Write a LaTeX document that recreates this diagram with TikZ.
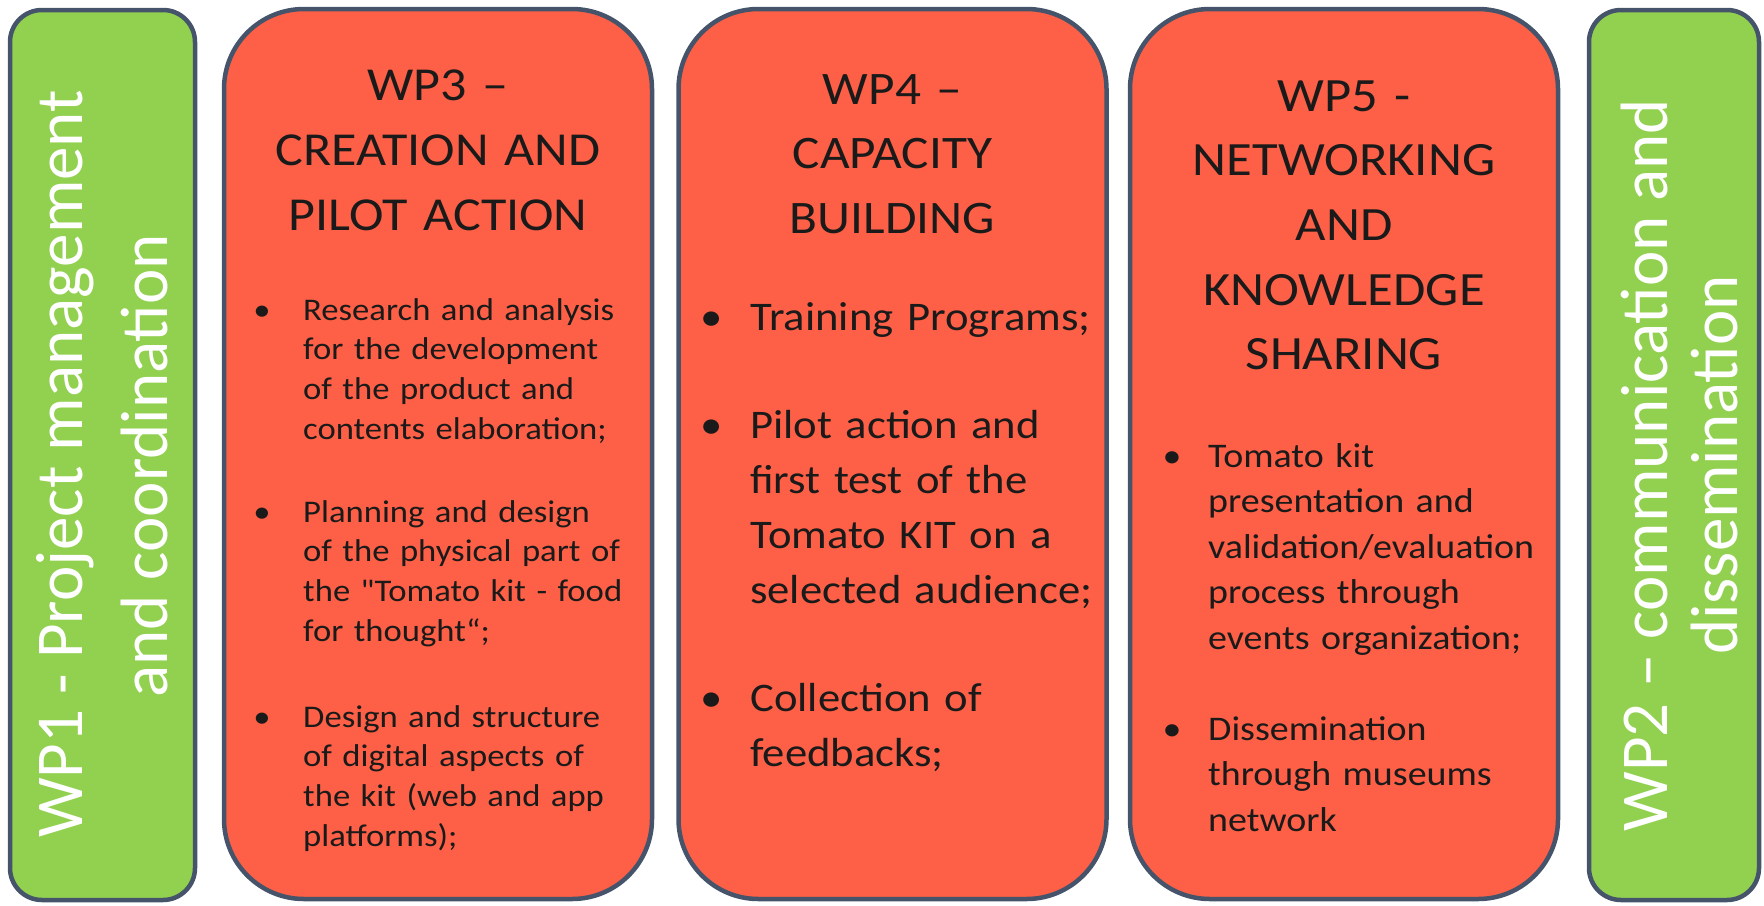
\documentclass[tikz,border=0pt]{standalone}
\usepackage{fontspec}
\setmainfont{Carlito}
\newfontfamily\boxfont{Carlito}[FakeStretch=1.1]

\definecolor{wpgreen}{HTML}{92D050}
\definecolor{wpred}{HTML}{FD6046}
\definecolor{wpedge}{HTML}{45546A}
\definecolor{textdark}{HTML}{1A1A1A}

\tikzset{
  wpbox/.style={draw=wpedge, line width=4.5pt, rectangle, inner sep=0pt, minimum height=890pt},
  greenbox/.style={wpbox, fill=wpgreen, rounded corners=32pt},
  redbox/.style={wpbox, fill=wpred, rounded corners=80pt, minimum width=428pt},
  sidetext/.style={text=white, font=\fontsize{67}{80}\selectfont, rotate=90, anchor=base, inner sep=0pt},
  titletext/.style={text=textdark, anchor=base, inner sep=0pt, align=center, text width=420pt},
  itemdot/.style={text=textdark, anchor=base, inner sep=0pt},
  itemtext/.style={text=textdark, anchor=base west, inner sep=0pt, align=left, text width=400pt},
}

\begin{document}
\begin{tikzpicture}[x=1pt, y=-1pt]
\useasboundingbox (0,0) rectangle (1764,905);

% the five work package columns
\node[greenbox, minimum width=185pt] (wp1) at (102.5,455) {};
\node[redbox] (wp3) at (438,454) {};
\node[redbox] (wp4) at (892.5,454) {};
\node[redbox] (wp5) at (1344,454) {};
\node[greenbox, minimum width=170pt] (wp2) at (1674,455) {};

% WP1, upright along the left column
\node[sidetext] (wp1a) at (82,464) {WP1 - Project management};
\node[sidetext] (wp1b) at (167,466) {and coordination};

% WP2, upright along the right column
\node[sidetext] (wp2a) at (1667,465) {WP2 – communication and};
\node[sidetext] (wp2b) at (1737,465) {dissemination};

% WP3
\node[titletext, font=\boxfont\fontsize{47.3}{65}\selectfont] (wp3t) at (438,100)
  {WP3 –\\CREATION AND\\PILOT ACTION};
\begin{scope}[font=\boxfont\fontsize{31.5}{39.7}\selectfont]
\node[itemdot] (wp3d1) at (262,320) {•};
\node[itemtext] (wp3i1) at (303,320)
  {Research and analysis\\for the development\\of the product and\\contents elaboration;};
\node[itemdot] (wp3d2) at (262,522) {•};
\node[itemtext] (wp3i2) at (303,522)
  {Planning and design\\of the physical part of\\the "Tomato kit - food\\for thought“;};
\node[itemdot] (wp3d3) at (262,727) {•};
\node[itemtext] (wp3i3) at (303,727)
  {Design and structure\\of digital aspects of\\the kit (web and app\\platforms);};
\end{scope}

% WP4
\node[titletext, font=\boxfont\fontsize{46.6}{64.5}\selectfont] (wp4t) at (892.5,104)
  {WP4 –\\CAPACITY\\BUILDING};
\begin{scope}[font=\boxfont\fontsize{40.6}{55}\selectfont]
\node[itemdot] (wp4d1) at (712,330) {•};
\node[itemtext] (wp4i1) at (750,330) {Training Programs;};
\node[itemdot] (wp4d2) at (712,438) {•};
\node[itemtext] (wp4i2) at (750,438)
  {Pilot action and\\first test of the\\Tomato KIT on a\\selected audience;};
\node[itemdot] (wp4d3) at (712,711) {•};
\node[itemtext] (wp4i3) at (750,711) {Collection of\\feedbacks;};
\end{scope}

% WP5
\node[titletext, font=\boxfont\fontsize{47.8}{64.7}\selectfont] (wp5t) at (1344,111)
  {WP5 -\\NETWORKING\\AND\\KNOWLEDGE\\SHARING};
\begin{scope}[font=\boxfont\fontsize{34.5}{45.5}\selectfont]
\node[itemdot] (wp5d1) at (1172,467) {•};
\node[itemtext] (wp5i1) at (1208,467)
  {Tomato kit\\presentation and\\validation/evaluation\\process through\\events organization;};
\node[itemdot] (wp5d2) at (1172,740) {•};
\node[itemtext] (wp5i2) at (1208,740)
  {Dissemination\\through museums\\network};
\end{scope}
\end{tikzpicture}
\end{document}
